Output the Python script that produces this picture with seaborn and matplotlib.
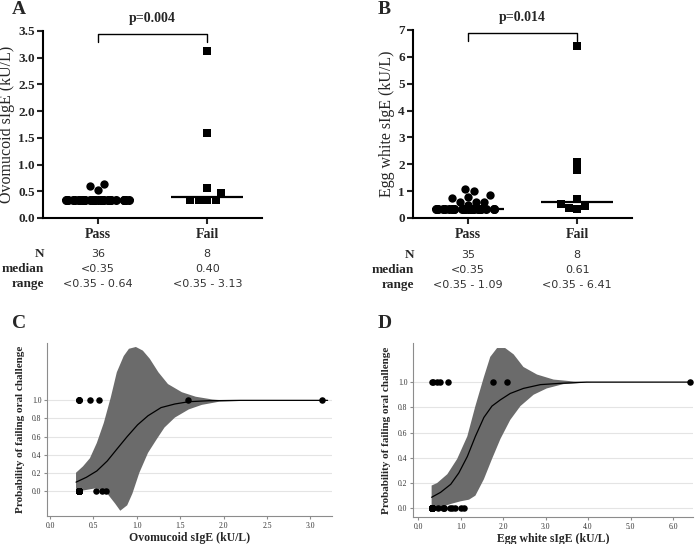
import warnings
import numpy as np
import pandas as pd
import seaborn as sns
import matplotlib.pyplot as plt

warnings.filterwarnings('ignore')

groups = ['Pass', 'Fail']
row_names = ['N', 'median', 'range']
floor_value = 0.33  # results <0.35 are plotted here

# sIgE values (kU/L)
ovo_pass = [0.33] * 33 + [0.53, 0.60, 0.64]
ovo_fail = [0.33, 0.33, 0.33, 0.33, 0.46, 0.56, 1.59, 3.13]
egg_pass = [0.33] * 26 + [0.47, 0.58, 0.60, 0.61, 0.75, 0.79, 0.86, 1.02, 1.09]
egg_fail = [0.33, 0.36, 0.45, 0.52, 0.70, 1.77, 2.09, 6.41]

ovo_stats = [['36', '8'], ['<0.35', '0.40'], ['<0.35 - 0.64', '<0.35 - 3.13']]
egg_stats = [['35', '8'], ['<0.35', '0.61'], ['<0.35 - 1.09', '<0.35 - 6.41']]

# logistic fit + 95% band
ovo_fit_x = [0.30, 0.42, 0.54, 0.66, 0.77, 0.89, 1.01, 1.13, 1.28, 1.44, 1.60, 1.83, 2.20, 3.20]
ovo_fit_y = [0.096, 0.15, 0.22, 0.33, 0.46, 0.60, 0.73, 0.83, 0.92, 0.96, 0.985, 0.996, 1.0, 1.0]
ovo_up_x = [0.30, 0.38, 0.46, 0.54, 0.62, 0.70, 0.77, 0.85, 0.91, 0.99, 1.07, 1.15, 1.25, 1.36,
            1.52, 1.68, 1.87, 2.0, 2.4, 3.20]
ovo_up_y = [0.20, 0.27, 0.36, 0.53, 0.75, 1.03, 1.31, 1.49, 1.57, 1.59, 1.55, 1.46, 1.31, 1.18,
            1.09, 1.04, 1.01, 1.0, 1.0, 1.0]
ovo_lo_x = [0.30, 0.42, 0.54, 0.66, 0.75, 0.81, 0.89, 0.95, 1.03, 1.13, 1.23, 1.32, 1.44, 1.60,
            1.75, 1.95, 2.4, 3.20]
ovo_lo_y = [-0.01, 0.01, 0.03, -0.03, -0.14, -0.22, -0.16, -0.03, 0.20, 0.42, 0.57, 0.70, 0.81,
            0.90, 0.95, 0.985, 1.0, 1.0]

egg_fit_x = [0.32, 0.53, 0.77, 0.96, 1.16, 1.35, 1.55, 1.74, 1.94, 2.17, 2.48, 2.88, 3.34, 3.97, 6.50]
egg_fit_y = [0.087, 0.126, 0.19, 0.28, 0.41, 0.57, 0.72, 0.81, 0.86, 0.91, 0.95, 0.98, 0.99, 1.0, 1.0]
egg_up_x = [0.32, 0.45, 0.69, 0.92, 1.16, 1.35, 1.55, 1.70, 1.86, 2.05, 2.25, 2.48, 2.80, 3.19,
            3.66, 4.10, 6.50]
egg_up_y = [0.18, 0.20, 0.27, 0.39, 0.57, 0.81, 1.04, 1.20, 1.27, 1.27, 1.22, 1.12, 1.06, 1.02,
            1.005, 1.0, 1.0]
egg_lo_x = [0.32, 0.53, 0.77, 1.00, 1.20, 1.35, 1.55, 1.74, 1.94, 2.17, 2.41, 2.72, 3.03, 3.42,
            3.97, 6.50]
egg_lo_y = [0.0, 0.008, 0.034, 0.055, 0.068, 0.10, 0.23, 0.39, 0.55, 0.70, 0.81, 0.90, 0.95,
            0.984, 0.997, 1.0]

sns.set_style('white')
plt.rcParams['font.family'] = ['Liberation Serif', 'DejaVu Serif']


def dot_panel(ax, p, f, ymax, ystep, ylabel, pval, stats):
    df = pd.DataFrame({'group': ['Pass'] * len(p) + ['Fail'] * len(f), 'value': p + f})
    low = df[(df.group == 'Pass') & (df.value <= floor_value)]
    high = df[(df.group == 'Pass') & (df.value > floor_value)]
    np.random.seed(3)
    sns.stripplot(data=low, x='group', y='value', order=groups, color='k', size=6.5,
                  jitter=0.3, linewidth=0, ax=ax)
    sns.swarmplot(data=high, x='group', y='value', order=groups, color='k', size=6,
                  linewidth=0, ax=ax)
    sns.swarmplot(data=df[df.group == 'Fail'], x='group', y='value', order=groups,
                  color='k', marker='s', size=6, linewidth=0, ax=ax)
    sns.boxplot(data=df, x='group', y='value', order=groups, width=0.66,
                showbox=False, showcaps=False, showfliers=False, whis=0,
                medianprops=dict(color='k', lw=1.6), whiskerprops=dict(visible=False), ax=ax)
    ax.set_xlim(-0.5, 1.5)
    ax.set_ylim(0, ymax)
    ax.set_yticks(np.arange(0, ymax + ystep / 2, ystep))
    ax.set_xlabel('')
    ax.set_ylabel(ylabel, fontsize=11.5, labelpad=2)
    sns.despine(ax=ax)
    for s in ['left', 'bottom']:
        ax.spines[s].set_linewidth(1.5)
        ax.spines[s].set_color('k')
    ax.tick_params(direction='out', length=4, width=1.5, labelsize=9.5, pad=2, left=True, bottom=True)
    ax.tick_params(axis='x', labelsize=10, pad=3)
    for lab in ax.get_xticklabels() + ax.get_yticklabels():
        lab.set_fontweight('bold')
    # significance bracket
    yb = ymax * 0.985
    ax.plot([0, 0, 1, 1], [ymax * 0.94, yb, yb, ymax * 0.94], color='k', lw=1, clip_on=False)
    ax.text(0.5, ymax * 1.065, pval, ha='center', va='center', fontsize=10,
            fontweight='bold', clip_on=False)
    # summary table
    for i, name in enumerate(row_names):
        y = -0.195 - 0.08 * i
        ax.text(0.005, y, name, transform=ax.transAxes, ha='right', va='center',
                fontsize=9.5, fontweight='bold')
        for j in range(2):
            ax.text(j, y, stats[i][j], transform=ax.get_xaxis_transform(), ha='center',
                    va='center', fontsize=8, family='DejaVu Sans', color='#333333')


def fit_panel(ax, p, f, fx, fy, ux, uy, lx, ly, xlim, ylim, xstep, xlabel):
    df = pd.DataFrame({'value': p + f, 'outcome': [0] * len(p) + [1] * len(f)})
    ax.fill(np.r_[ux, lx[::-1]], np.r_[uy, ly[::-1]], color='#6b6b6b', lw=0, zorder=2)
    sns.lineplot(x=fx, y=fy, color='k', lw=0.9, ax=ax, zorder=3)
    sns.scatterplot(data=df, x='value', y='outcome', color='k', s=22, linewidth=0, ax=ax, zorder=4)
    ax.set_xlim(*xlim)
    ax.set_ylim(*ylim)
    ax.set_yticks(np.arange(0, 1.01, 0.2))
    ax.set_yticklabels(['%.1f' % v for v in np.arange(0, 1.01, 0.2)])
    xt = np.arange(0, xlim[1], xstep)
    ax.set_xticks(xt)
    ax.set_xticklabels(['%.1f' % v for v in xt])
    ax.yaxis.grid(True, color='#e4e4e4', lw=0.8)
    ax.set_axisbelow(True)
    sns.despine(ax=ax)
    for s in ['left', 'bottom']:
        ax.spines[s].set_linewidth(0.8)
        ax.spines[s].set_color('#8c8c8c')
    ax.tick_params(direction='out', length=2.5, width=0.8, color='#8c8c8c', labelsize=5.5,
                   labelcolor='#333333', pad=1.5, left=True, bottom=True)
    ax.set_xlabel(xlabel, fontsize=8.5, fontweight='bold', labelpad=2)
    ax.set_ylabel('Probability of failing oral challenge', fontsize=8, fontweight='bold', labelpad=5)


fig = plt.figure(figsize=(7, 5.44), dpi=100)
ax_a = fig.add_axes([0.0614, 0.5993, 0.3129, 0.3438])
ax_b = fig.add_axes([0.59, 0.5993, 0.3129, 0.3456])
ax_c = fig.add_axes([0.0671, 0.0515, 0.4071, 0.318])
ax_d = fig.add_axes([0.59, 0.0497, 0.40, 0.3198])

dot_panel(ax_a, ovo_pass, ovo_fail, 3.5, 0.5, 'Ovomucoid sIgE (kU/L)', 'p=0.004', ovo_stats)
dot_panel(ax_b, egg_pass, egg_fail, 7, 1, 'Egg white sIgE (kU/L)', 'p=0.014', egg_stats)
ax_a.set_yticklabels(['%.1f' % v for v in np.arange(0, 3.51, 0.5)], fontweight='bold')

fit_panel(ax_c, ovo_pass, ovo_fail, ovo_fit_x, ovo_fit_y, ovo_up_x, ovo_up_y, ovo_lo_x, ovo_lo_y,
          (-0.035, 3.25), (-0.278, 1.634), 0.5, 'Ovomucoid sIgE (kU/L)')
fit_panel(ax_d, egg_pass, egg_fail, egg_fit_x, egg_fit_y, egg_up_x, egg_up_y, egg_lo_x, egg_lo_y,
          (-0.118, 6.47), (-0.069, 1.31), 1.0, 'Egg white sIgE (kU/L)')

for lab, x, y in [('A', 12, 10), ('B', 378, 10), ('C', 12, 323), ('D', 378, 323)]:
    fig.text(x / 700, 1 - y / 544, lab, fontsize=14, fontweight='bold', va='center', ha='left')

fig.savefig('out.png', dpi=100)
